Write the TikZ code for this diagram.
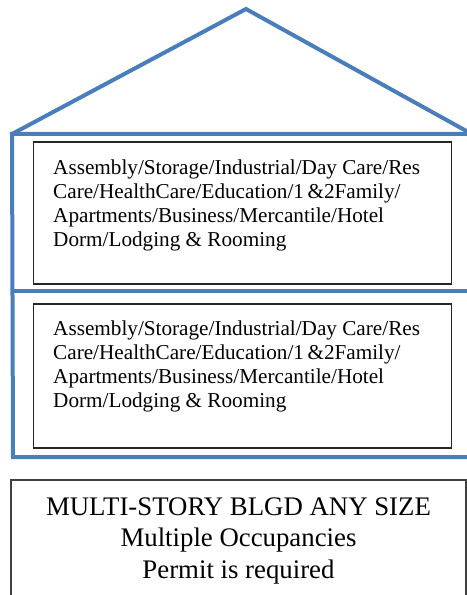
\documentclass[tikz,border=0pt]{standalone}
\usepackage{fontspec}
\setmainfont{Liberation Serif}
\definecolor{roofblue}{RGB}{74,126,187}
\begin{document}
\begin{tikzpicture}[x=1bp,y=-1bp,
  wall/.style={draw=roofblue,line width=4bp,line join=miter},
  occbox/.style={draw=black!85,line width=1.4bp,minimum width=418bp,inner sep=0pt},
  occtext/.style={anchor=north west,align=left,inner sep=0pt,font=\fontsize{21.2bp}{24bp}\selectfont},
  infobox/.style={draw=black!75,line width=1.1bp,inner sep=0pt},
  infotext/.style={anchor=north,align=center,inner sep=0pt,font=\fontsize{26.8bp}{31.5bp}\selectfont}]
\useasboundingbox (0,0) rectangle (467,595);
\clip (0,0) rectangle (467,595);
% building outline
\coordinate (apex) at (246,9);
\coordinate (rl) at (12,134);
\coordinate (rr) at (470,133);
\coordinate (er) at (470,134);
\coordinate (ml) at (13,291);
\coordinate (mr) at (470,291);
\coordinate (bl) at (13,457);
\coordinate (br) at (470,457);
\draw[wall] (rl) -- (apex) -- (rr);
\draw[wall] (er) -- (rl) -- (bl) -- (br);
\draw[wall] (ml) -- (mr);
% occupancy boxes
\node[occbox,minimum height=142bp] (box1) at (242.5,213) {};
\node[occbox,minimum height=144bp] (box2) at (242.5,376) {};
\node[occtext] (txt1) at (53,159.5) {Assembly/Storage/Industrial/Day Care/Res\\Care/HealthCare/Education/1\,\&2Family/\\Apartments/Business/Mercantile/Hotel\\Dorm/Lodging \& Rooming};
\node[occtext] (txt2) at (53,320.5) {Assembly/Storage/Industrial/Day Care/Res\\Care/HealthCare/Education/1\,\&2Family/\\Apartments/Business/Mercantile/Hotel\\Dorm/Lodging \& Rooming};
% bottom info box
\node[infobox,minimum width=455bp,minimum height=122bp] (info) at (238.5,541) {};
\node[infotext] (infotxt) at (238.5,497.5) {MULTI-STORY BLGD ANY SIZE\\Multiple Occupancies\\Permit is required};
\end{tikzpicture}
\end{document}
